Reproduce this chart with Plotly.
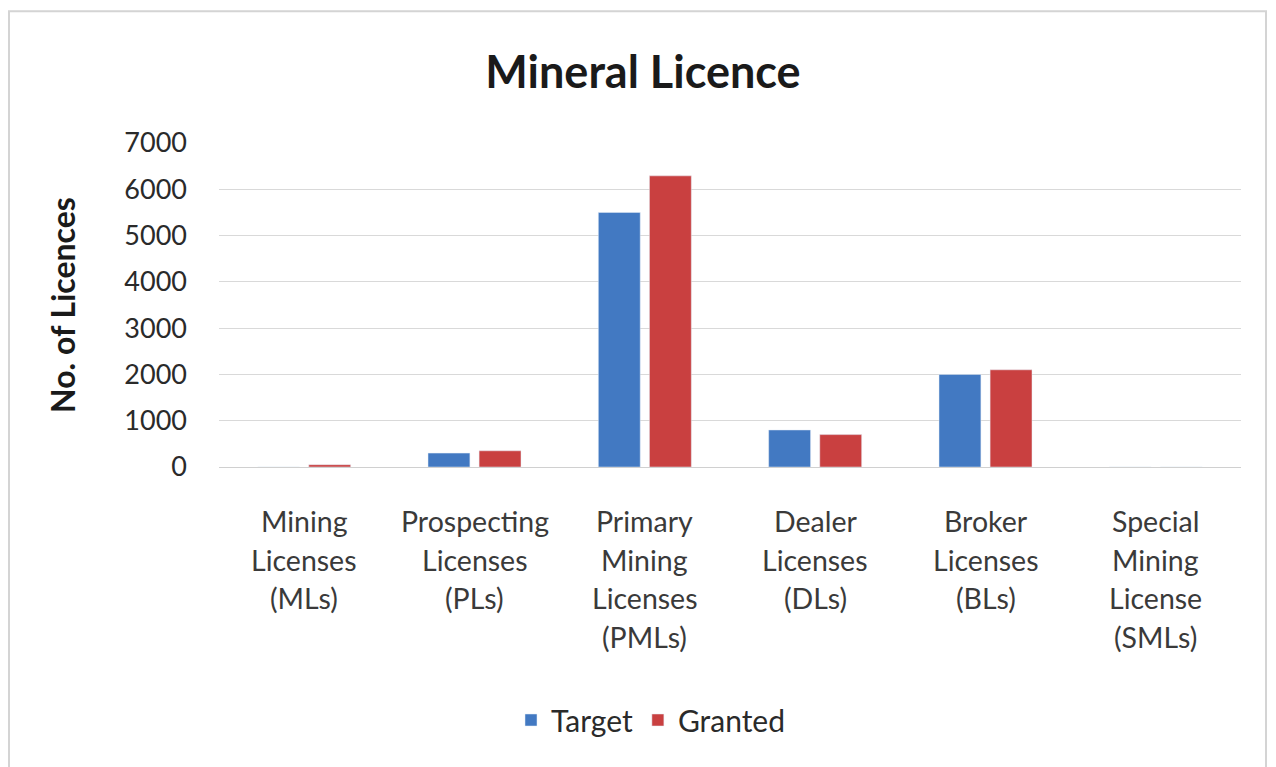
import plotly.graph_objects as go

categories = [
    "Mining<br>Licenses<br>(MLs)",
    "Prospecting<br>Licenses<br>(PLs)",
    "Primary<br>Mining<br>Licenses<br>(PMLs)",
    "Dealer<br>Licenses<br>(DLs)",
    "Broker<br>Licenses<br>(BLs)",
    "Special<br>Mining<br>License<br>(SMLs)",
]
target = [0, 300, 5500, 800, 2000, 0]
granted = [50, 350, 6290, 700, 2100, 0]
y_ticks = [0, 1000, 2000, 3000, 4000, 5000, 6000, 7000]

# page has an 8px body margin; figure coordinates = page coordinates - 8
OFF = 8
W, H = 1268, 759
L, R, T, B = 211, 35, 135, 299.5
FONT = "Lato"

fig = go.Figure()
fig.add_trace(go.Bar(name="Target", x=categories, y=target, marker_color="#4279C2"))
fig.add_trace(go.Bar(name="Granted", x=categories, y=granted, marker_color="#C94040"))

annotations = []
for cat in categories:
    for i, line in enumerate(cat.split("<br>")):
        annotations.append(dict(
            x=cat, xref="x", y=0, yref="paper", yshift=-54 - 38.5 * i,
            text=line, showarrow=False, yanchor="middle", xanchor="center",
            font=dict(family=FONT, size=28.5, color="#3a3a3a"),
        ))
annotations.append(dict(
    x=0, xref="paper", xshift=-157, y=0.5, yref="paper", textangle=-90,
    text="<b>No. of Licences</b>", showarrow=False, xanchor="center", yanchor="middle",
    font=dict(family=FONT, size=32, color="#1a1a1a"),
))

pw = W - L - R
ph = H - T - B
def px_x(p):
    return (p - OFF - L) / pw
def px_y(p):
    return (H - B - (p - OFF)) / ph

shapes = [dict(type="rect", xref="paper", yref="paper",
               x0=px_x(9), x1=px_x(1266), y0=px_y(820), y1=px_y(11),
               line=dict(color="#d4d4d4", width=2), fillcolor="rgba(0,0,0,0)", layer="below")]

fig.update_layout(
    width=W, height=H,
    margin=dict(l=L, r=R, t=T, b=B),
    paper_bgcolor="white", plot_bgcolor="white",
    barmode="group", bargap=0.4, bargroupgap=0.18,
    title=dict(text="<b>Mineral Licence</b>", x=(643 - OFF) / W, xref="container", xanchor="center",
               y=1 - (72 - OFF) / H, yref="container", yanchor="middle",
               font=dict(family=FONT, size=45, color="#1a1a1a")),
    xaxis=dict(showticklabels=False, showgrid=False, showline=True,
               linecolor="#d0d0d0", linewidth=1, ticks=""),
    yaxis=dict(range=[0, 7000], tickvals=y_ticks, showgrid=True, gridcolor="#d9d9d9",
               gridwidth=1, zeroline=False, ticks="", ticklabelstandoff=31,
               tickfont=dict(family=FONT, size=27, color="#2a2a2a")),
    legend=dict(orientation="h", xref="container", yref="container", x=(651 - OFF) / W,
                y=1 - (720 - OFF) / H,
                xanchor="center", yanchor="middle", font=dict(family=FONT, size=30, color="#2a2a2a"),
                itemwidth=30),
    annotations=annotations,
    shapes=shapes,
    showlegend=True,
)

fig.write_html("out.html")
